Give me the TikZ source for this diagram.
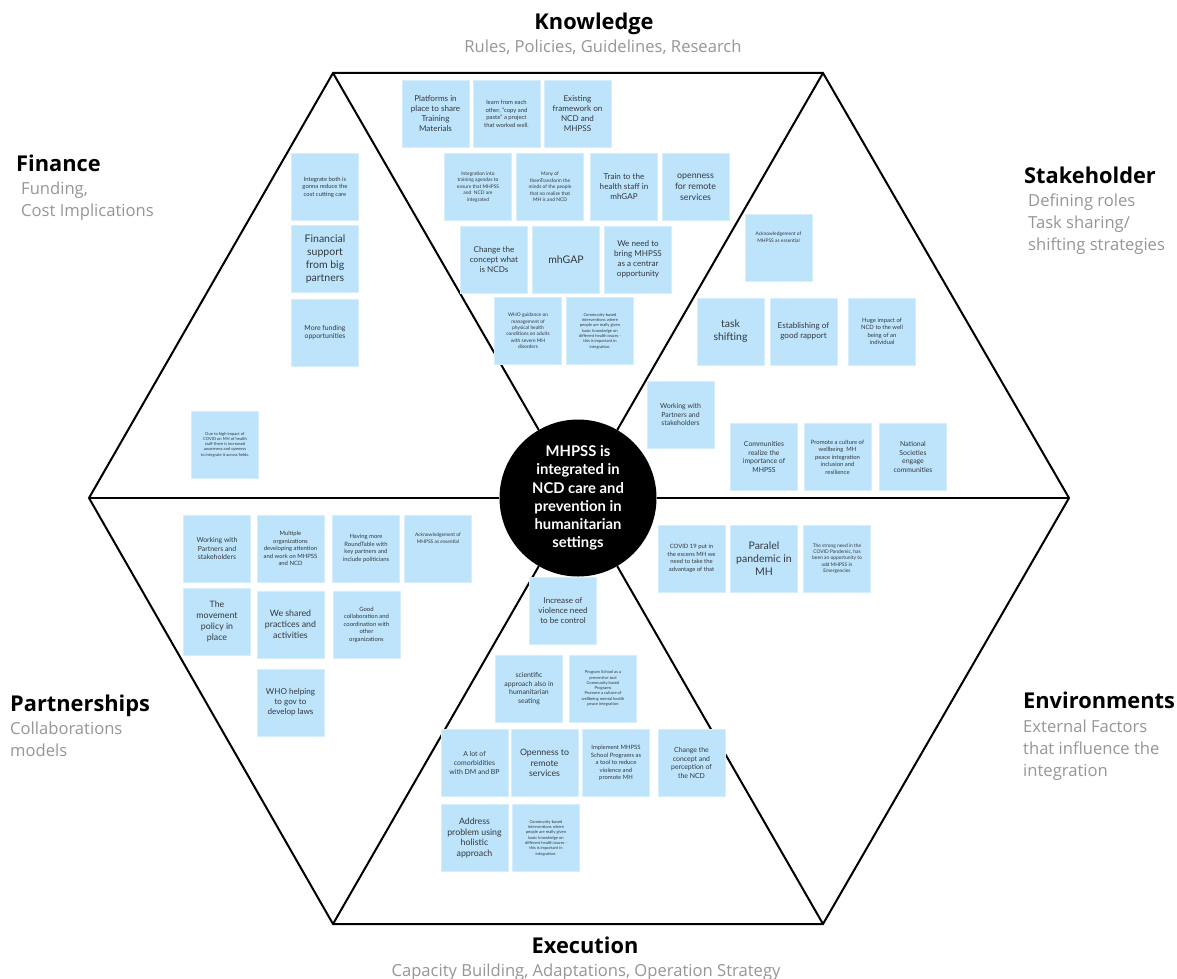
\documentclass[tikz,border=0pt]{standalone}
\usepackage{fontspec}
\setmainfont{Lato}
\newfontfamily\headfont{Open Sans}
\usetikzlibrary{positioning}

\definecolor{notefill}{RGB}{190,228,251}
\definecolor{noteedge}{RGB}{214,238,252}
\definecolor{notetext}{RGB}{50,56,62}
\definecolor{subgray}{RGB}{150,150,150}

\tikzset{
    hexline/.style={line width=2pt, line join=miter},
    note/.style={fill=notefill, draw=noteedge, line width=0.8pt, minimum width=67pt,
        minimum height=67pt, inner sep=1pt, align=center, text=notetext},
    fXL/.style={font=\fontsize{10.5}{13}\selectfont},
    fL/.style={font=\fontsize{8.8}{10.8}\selectfont},
    fM/.style={font=\fontsize{8.1}{10}\selectfont},
    fS/.style={font=\fontsize{6.9}{8.8}\selectfont},
    fXS/.style={font=\fontsize{5.9}{7.5}\selectfont},
    fXXS/.style={font=\fontsize{4.9}{6.4}\selectfont},
    fMini/.style={font=\fontsize{4.1}{5.3}\selectfont},
    sidetitle/.style={font=\headfont\fontsize{21.8}{24}\bfseries\selectfont, inner sep=0pt},
    sidesub/.style={font=\headfont\fontsize{16.6}{21.7}\selectfont, text=subgray, inner sep=0pt, align=left},
}

\begin{document}
\begin{tikzpicture}[x=1pt,y=-1pt]
        \useasboundingbox[fill=white] (0,0) rectangle (1177,979);

        %%%%%%%% Esagono %%%%%%%%%
        \coordinate (vL)  at (89,498);
        \coordinate (vTL) at (333,73);
        \coordinate (vTR) at (823,73);
        \coordinate (vR)  at (1069,498);
        \coordinate (vBR) at (823,924);
        \coordinate (vBL) at (333,924);
        \draw[hexline] (vL) -- (vTL) -- (vTR) -- (vR) -- (vBR) -- (vBL) -- cycle;

        \node[circle, fill=black, minimum size=157pt, inner sep=0pt, text=white, align=center,
              font=\fontsize{14.8}{18.2}\bfseries\selectfont] (core) at (578,498)
              {MHPSS is\\integrated in\\NCD care and\\prevention in\\humanitarian\\settings};
        \foreach \v in {vL,vTL,vTR,vR,vBR,vBL}
            \draw[hexline] (core) -- (\v);

        %%%%%%%% Titoli %%%%%%%%%
        \node[sidetitle, anchor=base] (knowT) at (594,30) {Knowledge};
        \node[sidesub, anchor=base] (knowS) at (603,53) {Rules, Policies, Guidelines, Research};
        \node[sidetitle, anchor=base] (execT) at (585,953) {Execution};
        \node[sidesub, anchor=base] (execS) at (586,976) {Capacity Building, Adaptations, Operation Strategy};
        \node[sidetitle, anchor=base west] (finT) at (16,171) {Finance};
        \node[sidesub, anchor=north west] (finS) at (21,182) {Funding,\\Cost Implications};
        \node[sidetitle, anchor=base west] (stakeT) at (1024,183) {Stakeholder};
        \node[sidesub, anchor=north west] (stakeS) at (1028,194) {Defining roles\\Task sharing/\\shifting strategies};
        \node[sidetitle, anchor=base west] (partT) at (10,711) {Partnerships};
        \node[sidesub, anchor=north west] (partS) at (10,722) {Collaborations\\models};
        \node[sidetitle, anchor=base west] (envT) at (1023,708) {Environments};
        \node[sidesub, anchor=north west] (envS) at (1023,720) {External Factors\\that influence the\\integration};

        %%%%%%%% Knowledge %%%%%%%%%
        \node[note, fM] (k1) at (435.5,114) {Platforms in\\place to share\\Training\\Materials};
        \node[note, fXS] (k2) at (506.5,114) {learn from each\\other, "copy and\\paste" a project\\that worked well.};
        \node[note, fM] (k3) at (577.5,114) {Existing\\framework on\\NCD and\\MHPSS};
        \node[note, fXXS] (k4) at (478,187) {Integration into\\training agendas to\\ensure that MHPSS\\and~ NCD are\\integrated};
        \node[note, fXXS] (k5) at (550,187) {Many of\\themTransform the\\minds of the people\\that no realize that\\MH is and NCD};
        \node[note, fM] (k6) at (624,187) {Train to the\\health staff in\\mhGAP};
        \node[note, fL] (k7) at (695.5,187) {openness\\for remote\\services};
        \node[note, fM] (k8) at (494,259.5) {Change the\\concept what\\is NCDs};
        \node[note, fXL] (k9) at (566,259.5) {mhGAP};
        \node[note, fM] (k10) at (638,259.5) {We need to\\bring MHPSS\\as a centrar\\opportunity};
        \node[note, fXXS] (k11) at (528,331) {WHO guidance on\\management of\\physical health\\conditions on adults\\with severe MH\\disorders};
        \node[note, fMini] (k12) at (600,331) {Community-based\\interventions where\\people are really given\\basic knowledge on\\different health issues -\\this is important in\\integration.};

        %%%%%%%% Finance %%%%%%%%%
        \node[note, fXS] (f1) at (325,187) {Integrate both is\\gonna reduce the\\cost cutting care};
        \node[note, fXL] (f2) at (325,259) {Financial\\support\\from big\\partners};
        \node[note, fS] (f3) at (325,332.5) {More funding\\opportunities};
        \node[note, fMini] (f4) at (225,444.5) {Due to high impact of\\COVID on MH of health\\staff there is increased\\awareness and openess\\to integrate it across fields.};

        %%%%%%%% Stakeholder %%%%%%%%%
        \node[note, fXXS] (s1) at (778.5,247.5) {Acknowledgement of\\MHPSS as essential\\[14pt]};
        \node[note, fXL] (s2) at (730.5,331.5) {task\\shifting};
        \node[note, fM] (s3) at (803.5,331.5) {Establishing of\\good rapport};
        \node[note, fXS] (s4) at (882,331.5) {Huge impact of\\NCD to the well\\being of an\\individual};
        \node[note, fS] (s5) at (680.5,414.5) {Working with\\Partners and\\stakeholders};
        \node[note, fS] (s6) at (764,457) {Communities\\realize the\\importance of\\MHPSS};
        \node[note, fXS] (s7) at (837.5,457) {Promote a culture of\\wellbeing~ MH\\peace integration\\inclusion and\\resilience};
        \node[note, fS] (s8) at (913,457) {National\\Societies\\engage\\communities};

        %%%%%%%% Partnerships %%%%%%%%%
        \node[note, fS] (p1) at (217,548.5) {Working with\\Partners and\\stakeholders};
        \node[note, fXS] (p2) at (290.5,548.5) {Multiple\\organizations\\developing attention\\and work on MHPSS\\and NCD};
        \node[note, fXS] (p3) at (366,548.5) {Having more\\RoundTable with\\key partners and\\include politicians};
        \node[note, fXXS] (p4) at (438,548.5) {Acknowledgement of\\MHPSS as essential\\[14pt]};
        \node[note, fL] (p5) at (217,621.5) {The\\movement\\policy in\\place};
        \node[note, fL] (p6) at (290.5,624.5) {We shared\\practices and\\activities};
        \node[note, fXS] (p7) at (366.5,624.5) {Good\\collaboration and\\coordination with\\other\\organizations};
        \node[note, fM] (p8) at (290.5,702.5) {WHO helping\\to gov to\\develop laws};

        %%%%%%%% Environments %%%%%%%%%
        \node[note, fXS] (e1) at (691.5,558.5) {COVID 19 put in\\the escens MH we\\need to take the\\advantage of that};
        \node[note, fXL] (e2) at (764,558.5) {Paralel\\pandemic in\\MH};
        \node[note, fXXS] (e3) at (837,558.5) {The strong need in the\\COVID Pandemic, has\\been an opportunity to\\add MHPSS in\\Emergencies};

        %%%%%%%% Execution %%%%%%%%%
        \node[note, fM] (x1) at (563,611) {Increase of\\violence need\\to be control};
        \node[note, fS] (x2) at (529,688.5) {scientific\\approach also in\\humanitarian\\seating};
        \node[note, fMini] (x3) at (603,688.5) {Program School as a\\preventive tool\\Community based\\Programs\\Promote a culture of\\wellbeing mental health\\peace integration};
        \node[note, fS] (x4) at (474.5,763) {A lot of\\comorbidities\\with DM and BP};
        \node[note, fL] (x5) at (544.5,763) {Openness to\\remote\\services};
        \node[note, fXS] (x6) at (616,763) {Implement MHPSS\\School Programs as\\a tool to reduce\\violence and\\promote MH};
        \node[note, fS] (x7) at (691.5,763) {Change the\\concept and\\perception of\\the NCD};
        \node[note, fL] (x8) at (474.5,838) {Address\\problem using\\holistic\\approach};
        \node[note, fMini] (x9) at (546,838) {Community-based\\interventions where\\people are really given\\basic knowledge on\\different health issues -\\this is important in\\integration.};

    \end{tikzpicture}
\end{document}
